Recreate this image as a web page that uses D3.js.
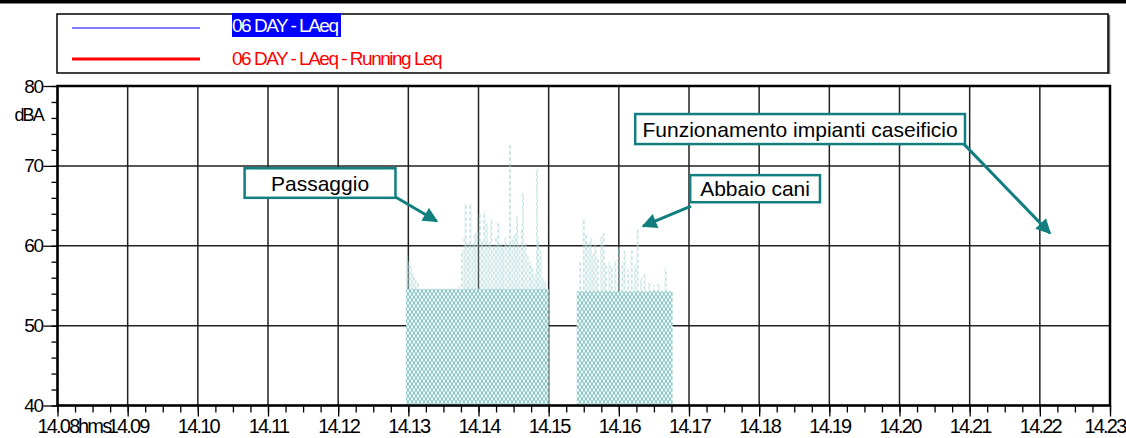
<!DOCTYPE html>
<html>
<head>
<meta charset="utf-8">
<script src="https://cdn.jsdelivr.net/npm/d3@7"></script>
<style>
  body { margin: 0; background: #fff; }
  svg { display: block; font-family: "Liberation Sans", Arial, sans-serif; }
</style>
</head>
<body>
<script>
const width = 1126;
const height = 438;

// time is in seconds after 14:08:00
const xTickLabels = ["14.08", "14.09", "14.10", "14.11", "14.12", "14.13", "14.14", "14.15",
  "14.16", "14.17", "14.18", "14.19", "14.20", "14.21", "14.22", "14.23"];
const yTickLabels = [40, 50, 60, 70, 80];
const seriesNames = ["06 DAY - LAeq", "06 DAY - LAeq - Running Leq"];

// flat part of the two noisy periods
const blockStart = [298, 444];
const blockEnd = [420, 526];
const blockLevel = [54.6, 54.3];

// peaks above the flat part
const spikeTimes = [299, 300, 302, 304, 306, 308,
  343, 346, 348, 349, 351, 353, 355, 357, 359, 361, 363, 365, 367, 369, 371, 373, 375, 377,
  379, 381, 383, 385, 387, 389, 391, 393, 395, 397, 398, 400, 402, 404, 406, 408, 410, 411,
  413, 415, 417,
  447, 450, 452, 454, 456, 458, 460, 462, 465, 467, 469, 472, 474, 477, 480, 483, 485, 488,
  491, 494, 496, 499, 502, 506, 510, 514, 520];
const spikeLevels = [58.7, 58.0, 57.4, 56.6, 56.0, 55.4,
  55.0, 59.5, 61.0, 65.3, 60.5, 65.4, 60.2, 61.5, 62.0, 64.0, 60.5, 64.2, 62.8, 60.4, 63.4, 60.0, 61.2, 62.9,
  60.3, 59.8, 61.0, 60.2, 72.7, 60.8, 61.5, 63.7, 60.1, 62.0, 66.6, 60.3, 59.0, 58.0, 57.2, 56.5, 69.6, 61.0,
  59.4, 56.0, 55.5,
  58.0, 63.4, 61.5, 60.3, 61.0, 59.0, 60.2, 58.5, 61.2, 61.6, 57.5, 58.0, 57.3, 58.2, 59.8, 58.0, 59.4, 57.0,
  59.4, 57.6, 62.0, 56.0, 56.5, 55.4, 55.0, 55.2, 57.2];

// annotations (box corners and arrows in time / dB)
const noteLabels = ["Passaggio", "Abbaio cani", "Funzionamento impianti caseificio"];
const noteLeft = [160, 541, 494];
const noteRight = [289, 652, 776];
const noteTop = [69.7, 68.84, 76.49];
const noteBottom = [66.0, 65.45, 72.73];
const arrowFromT = [289.4, 541.7, 774.3];
const arrowFromDb = [66.08, 64.95, 72.85];
const arrowToT = [324.4, 500.7, 848.7];
const arrowToDb = [63.07, 62.45, 61.57];

const teal = "#127e80";

const svg = d3.select("body").append("svg")
  .attr("width", width)
  .attr("height", height);

const x = d3.scaleLinear().domain([0, 900]).range([57.5, 1110]);
const y = d3.scaleLinear().domain([40, 80]).range([405.5, 86]);

const defs = svg.append("defs");
const hatch = defs.append("pattern")
  .attr("id", "hatch")
  .attr("patternUnits", "userSpaceOnUse")
  .attr("width", 4)
  .attr("height", 6);
hatch.append("rect").attr("width", 4).attr("height", 6).attr("fill", "#f2f9f9");
hatch.append("path")
  .attr("d", "M0,0L2,3L0,6M4,0L2,3L4,6")
  .attr("fill", "none")
  .attr("stroke", "#5cb0b0")
  .attr("stroke-width", 0.8);

defs.append("marker")
  .attr("id", "head")
  .attr("viewBox", "0 0 10 10")
  .attr("refX", 9)
  .attr("refY", 5)
  .attr("markerUnits", "userSpaceOnUse")
  .attr("markerWidth", 18)
  .attr("markerHeight", 15)
  .attr("orient", "auto")
  .append("path")
  .attr("d", "M0,0L10,5L0,10z")
  .attr("fill", teal);

// top black band
svg.append("rect").attr("x", 0).attr("y", 0).attr("width", width).attr("height", 3.5).attr("fill", "#000");

// legend
const legend = svg.append("g");
legend.append("line")
  .attr("x1", 1109).attr("x2", 1109).attr("y1", 15).attr("y2", 74)
  .attr("stroke", "#777").attr("stroke-width", 2.5);
legend.append("rect")
  .attr("x", 57).attr("y", 14).attr("width", 1051).attr("height", 59)
  .attr("fill", "#fff").attr("stroke", "#000").attr("stroke-width", 1.5);
legend.append("line")
  .attr("x1", 72).attr("x2", 200).attr("y1", 28).attr("y2", 28)
  .attr("stroke", "#0000ff").attr("stroke-width", 1.2);
legend.append("line")
  .attr("x1", 72).attr("x2", 200).attr("y1", 59).attr("y2", 59)
  .attr("stroke", "#ff0000").attr("stroke-width", 3);
legend.append("rect")
  .attr("x", 232).attr("y", 13).attr("width", 109).attr("height", 24)
  .attr("fill", "#0000ff");
legend.append("text")
  .attr("x", 232).attr("y", 32)
  .attr("fill", "#fff")
  .style("font-size", "19px").style("letter-spacing", "-1.5px")
  .text(seriesNames[0]);
legend.append("text")
  .attr("x", 232).attr("y", 65)
  .attr("fill", "#ff0000")
  .style("font-size", "19px").style("letter-spacing", "-1.5px")
  .text(seriesNames[1]);

// grid
const minutes = xTickLabels.map((d, i) => i * 60);
svg.append("g")
  .selectAll("line")
  .data(minutes)
  .join("line")
  .attr("x1", d => x(d)).attr("x2", d => x(d))
  .attr("y1", y(80)).attr("y2", y(40))
  .attr("stroke", "#222").attr("stroke-width", 1.5);
svg.append("g")
  .selectAll("line")
  .data(yTickLabels)
  .join("line")
  .attr("x1", x(0)).attr("x2", x(900))
  .attr("y1", d => y(d)).attr("y2", d => y(d))
  .attr("stroke", "#222").attr("stroke-width", 1.5);

// data
const spikes = spikeTimes.map((t, i) => ({ t, v: spikeLevels[i] }));
svg.append("g")
  .attr("opacity", 0.5)
  .selectAll("rect")
  .data(spikes)
  .join("rect")
  .attr("x", d => x(d.t) - 1)
  .attr("width", 2)
  .attr("y", d => y(d.v))
  .attr("height", d => y(50) - y(d.v))
  .attr("fill", "url(#hatch)");

const blocks = blockStart.map((s, i) => ({ s, e: blockEnd[i], v: blockLevel[i] }));
svg.append("g")
  .selectAll("rect")
  .data(blocks)
  .join("rect")
  .attr("x", d => x(d.s))
  .attr("width", d => x(d.e) - x(d.s))
  .attr("y", d => y(d.v))
  .attr("height", d => y(40) - y(d.v))
  .attr("fill", "url(#hatch)");

// frame
svg.append("rect")
  .attr("x", x(0)).attr("y", y(80))
  .attr("width", x(900) - x(0)).attr("height", y(40) - y(80))
  .attr("fill", "none").attr("stroke", "#000").attr("stroke-width", 2.5);

// axes
const xMinor = d3.axisBottom(x)
  .tickValues(d3.range(0, 901, 15))
  .tickSize(7)
  .tickFormat("");
svg.append("g").attr("transform", `translate(0,${y(40)})`).call(xMinor)
  .call(g => g.select(".domain").remove())
  .selectAll("line").attr("stroke", "#000").attr("stroke-width", 1.3);

const xMajor = d3.axisBottom(x)
  .tickValues(minutes)
  .tickSize(11)
  .tickFormat((d, i) => xTickLabels[i]);
const xg = svg.append("g").attr("transform", `translate(0,${y(40)})`).call(xMajor);
xg.select(".domain").remove();
xg.selectAll("line").attr("stroke", "#000").attr("stroke-width", 1.3);
xg.selectAll("text")
  .attr("y", null).attr("dy", null)
  .attr("transform", "translate(0,27.5)")
  .attr("fill", "#000")
  .style("font-size", "20px").style("letter-spacing", "-1.8px")
  .style("font-family", "'Liberation Sans', Arial, sans-serif");
// last label is pulled inside the window
xg.selectAll("text").filter((d, i) => i === xTickLabels.length - 1)
  .attr("text-anchor", "end")
  .attr("x", width - 1 - x(900));
svg.append("text")
  .attr("x", x(0) + 20.5).attr("y", y(40) + 27.5)
  .style("font-size", "20px").style("letter-spacing", "-1.8px")
  .text("hms");

const yMinor = d3.axisLeft(y)
  .tickValues(d3.range(40, 81, 2))
  .tickSize(6)
  .tickFormat("");
svg.append("g").attr("transform", `translate(${x(0)},0)`).call(yMinor)
  .call(g => g.select(".domain").remove())
  .selectAll("line").attr("stroke", "#000").attr("stroke-width", 1.3);

const yMajor = d3.axisLeft(y)
  .tickValues(yTickLabels)
  .tickSize(14)
  .tickPadding(1)
  .tickFormat(d3.format("d"));
const yg = svg.append("g").attr("transform", `translate(${x(0)},0)`).call(yMajor);
yg.select(".domain").remove();
yg.selectAll("line").attr("stroke", "#000").attr("stroke-width", 1.3);
yg.selectAll("text")
  .attr("fill", "#000")
  .style("font-size", "19px").style("letter-spacing", "-1.5px")
  .style("font-family", "'Liberation Sans', Arial, sans-serif");

svg.append("text")
  .attr("x", 43).attr("y", 121)
  .attr("text-anchor", "end")
  .style("font-size", "18px").style("letter-spacing", "-1.8px")
  .text("dBA");

// annotations
const notes = noteLabels.map((label, i) => ({
  label,
  x0: x(noteLeft[i]), x1: x(noteRight[i]),
  y0: y(noteTop[i]), y1: y(noteBottom[i]),
  ax: x(arrowFromT[i]), ay: y(arrowFromDb[i]),
  bx: x(arrowToT[i]), by: y(arrowToDb[i])
}));
const note = svg.append("g").selectAll("g").data(notes).join("g");
note.append("line")
  .attr("x1", d => d.ax).attr("y1", d => d.ay)
  .attr("x2", d => d.bx).attr("y2", d => d.by)
  .attr("stroke", teal).attr("stroke-width", 3)
  .attr("marker-end", "url(#head)");
note.append("rect")
  .attr("x", d => d.x0).attr("y", d => d.y0)
  .attr("width", d => d.x1 - d.x0).attr("height", d => d.y1 - d.y0)
  .attr("fill", "#fff").attr("stroke", teal).attr("stroke-width", 2.5);
note.append("text")
  .attr("x", d => (d.x0 + d.x1) / 2)
  .attr("y", d => (d.y0 + d.y1) / 2 + 7.5)
  .attr("text-anchor", "middle")
  .style("font-size", "21px")
  .text(d => d.label);
</script>
</body>
</html>
